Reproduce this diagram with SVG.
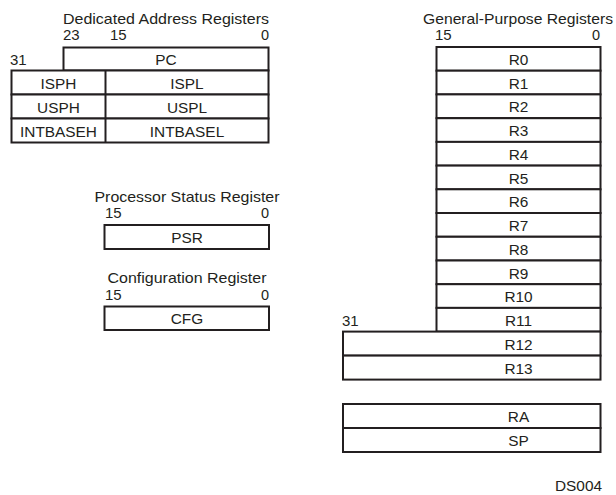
<svg xmlns="http://www.w3.org/2000/svg" width="616" height="495" viewBox="0 0 616 495">
<style>
text{font-family:"Liberation Sans",Arial,sans-serif;font-size:15.4px;fill:#231f20}
.t,.n{font-size:14.5px}
.m{text-anchor:middle}
.e{text-anchor:end}
.b{fill:#fff;stroke:#231f20;stroke-width:2}
.l{fill:none;stroke:#231f20;stroke-width:2}
</style>
<rect width="616" height="495" fill="#fff"/>
<g id="dedicated">
<text class="t m" x="166" y="23.8" textLength="206" lengthAdjust="spacingAndGlyphs">Dedicated Address Registers</text>
<text class="n" x="63" y="40.2" textLength="16.7" lengthAdjust="spacingAndGlyphs">23</text>
<text class="n" x="110" y="40.2" textLength="16.7" lengthAdjust="spacingAndGlyphs">15</text>
<text class="n e" x="269" y="40.2">0</text>
<text class="n" x="10" y="64.5" textLength="16.7" lengthAdjust="spacingAndGlyphs">31</text>
<g id="pc"><rect class="b" x="63.5" y="47.5" width="205" height="23"/><text class="m" x="166" y="65">PC</text></g>
<g id="isp"><rect class="b" x="11.5" y="70.5" width="257" height="24"/><line class="l" x1="105.5" y1="70.5" x2="105.5" y2="94.5"/><text class="m" x="58.5" y="88.5">ISPH</text><text class="m" x="187" y="88.5">ISPL</text></g>
<g id="usp"><rect class="b" x="11.5" y="94.5" width="257" height="24"/><line class="l" x1="105.5" y1="94.5" x2="105.5" y2="118.5"/><text class="m" x="58.5" y="112.5">USPH</text><text class="m" x="187" y="112.5">USPL</text></g>
<g id="intbase"><rect class="b" x="11.5" y="118.5" width="257" height="24"/><line class="l" x1="105.5" y1="118.5" x2="105.5" y2="142.5"/><text class="m" x="58.5" y="136.5">INTBASEH</text><text class="m" x="187" y="136.5">INTBASEL</text></g>
</g>
<g id="psr-reg">
<text class="t m" x="187" y="201.5" textLength="185" lengthAdjust="spacingAndGlyphs">Processor Status Register</text>
<text class="n" x="105" y="218" textLength="16.7" lengthAdjust="spacingAndGlyphs">15</text>
<text class="n e" x="269" y="218">0</text>
<g id="psr"><rect class="b" x="104.5" y="225" width="164.5" height="24"/><text class="m" x="187" y="243">PSR</text></g>
</g>
<g id="cfg-reg">
<text class="t m" x="187" y="283" textLength="159" lengthAdjust="spacingAndGlyphs">Configuration Register</text>
<text class="n" x="105" y="300" textLength="16.7" lengthAdjust="spacingAndGlyphs">15</text>
<text class="n e" x="269" y="300">0</text>
<g id="cfg"><rect class="b" x="104.5" y="306.5" width="164.5" height="23.5"/><text class="m" x="187" y="324">CFG</text></g>
</g>
<g id="general">
<text class="t m" x="518" y="23.8" textLength="190" lengthAdjust="spacingAndGlyphs">General-Purpose Registers</text>
<text class="n" x="435" y="40.2" textLength="16.7" lengthAdjust="spacingAndGlyphs">15</text>
<text class="n e" x="600" y="40.2">0</text>
<text class="n" x="342" y="326" textLength="16.7" lengthAdjust="spacingAndGlyphs">31</text>
<g id="r0"><rect class="b" x="436.5" y="47" width="164" height="23.7"/><text class="m" x="518.5" y="65">R0</text></g>
<g id="r1"><rect class="b" x="436.5" y="70.7" width="164" height="23.7"/><text class="m" x="518.5" y="88.7">R1</text></g>
<g id="r2"><rect class="b" x="436.5" y="94.4" width="164" height="23.7"/><text class="m" x="518.5" y="112.4">R2</text></g>
<g id="r3"><rect class="b" x="436.5" y="118.2" width="164" height="23.7"/><text class="m" x="518.5" y="136.2">R3</text></g>
<g id="r4"><rect class="b" x="436.5" y="141.9" width="164" height="23.7"/><text class="m" x="518.5" y="159.9">R4</text></g>
<g id="r5"><rect class="b" x="436.5" y="165.6" width="164" height="23.7"/><text class="m" x="518.5" y="183.6">R5</text></g>
<g id="r6"><rect class="b" x="436.5" y="189.3" width="164" height="23.7"/><text class="m" x="518.5" y="207.3">R6</text></g>
<g id="r7"><rect class="b" x="436.5" y="213" width="164" height="23.7"/><text class="m" x="518.5" y="231">R7</text></g>
<g id="r8"><rect class="b" x="436.5" y="236.8" width="164" height="23.7"/><text class="m" x="518.5" y="254.8">R8</text></g>
<g id="r9"><rect class="b" x="436.5" y="260.5" width="164" height="23.7"/><text class="m" x="518.5" y="278.5">R9</text></g>
<g id="r10"><rect class="b" x="436.5" y="284.2" width="164" height="23.7"/><text class="m" x="518.5" y="302.2">R10</text></g>
<g id="r11"><rect class="b" x="436.5" y="307.9" width="164" height="23.7"/><text class="m" x="518.5" y="325.9">R11</text></g>
<g id="r12"><rect class="b" x="343" y="331.6" width="257.5" height="24"/><text class="m" x="518.5" y="349.6">R12</text></g>
<g id="r13"><rect class="b" x="343" y="355.6" width="257.5" height="24"/><text class="m" x="518.5" y="373.6">R13</text></g>
<g id="ra"><rect class="b" x="343" y="404" width="257.5" height="24"/><text class="m" x="518.5" y="422">RA</text></g>
<g id="sp"><rect class="b" x="343" y="428" width="257.5" height="24"/><text class="m" x="518.5" y="446">SP</text></g>
</g>
<text class="e" x="602" y="491">DS004</text>
<g id="connectors"/>
</svg>
